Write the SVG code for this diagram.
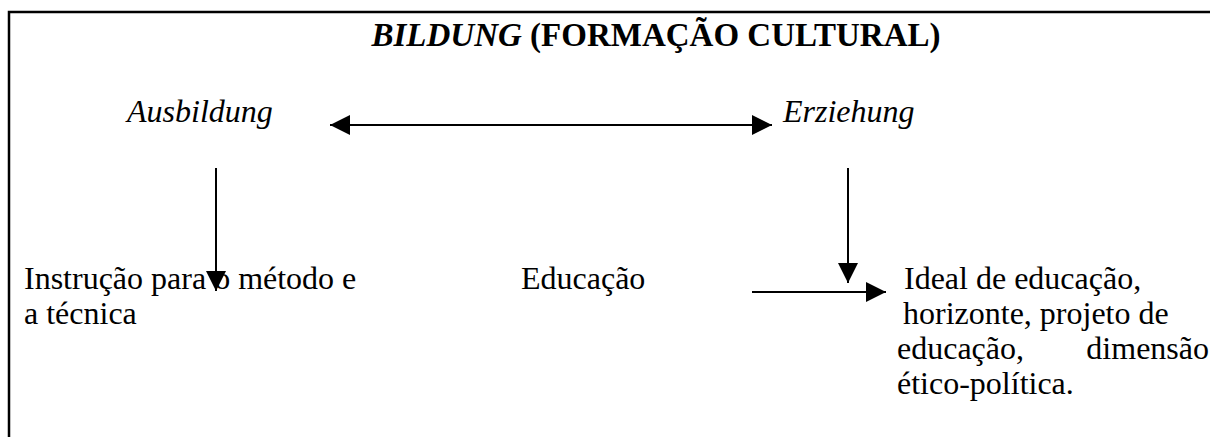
<svg xmlns="http://www.w3.org/2000/svg" width="1210" height="437" viewBox="0 0 1210 437">
<style>
text{font-family:"Liberation Serif","Times New Roman",serif;font-size:32px;fill:#000}
.it{font-style:italic}
.b{font-weight:bold}
.ln{stroke:#000;stroke-width:2;fill:none}
</style>
<defs>
<marker id="ah" viewBox="0 0 10 10" refX="10" refY="5" markerWidth="20" markerHeight="20" markerUnits="userSpaceOnUse" orient="auto-start-reverse">
<path d="M0,0 L10,5 L0,10 Z" fill="#000"/>
</marker>
</defs>
<rect width="1210" height="437" fill="#fff"/>
<g id="frame">
<path d="M9,437 V12 H1210" stroke="#000" stroke-width="2.5" fill="none"/>
</g>
<g id="title"><text x="656" y="46" text-anchor="middle" style="font-size:33px"><tspan class="it b">BILDUNG</tspan><tspan class="b"> (FORMAÇÃO CULTURAL)</tspan></text></g>
<g id="ausbildung"><text class="it" x="127" y="122">Ausbildung</text></g>
<g id="erziehung"><text class="it" x="783" y="122">Erziehung</text></g>
<g id="instrucao"><text x="24" y="289">Instrução para o método e</text><text x="24" y="324">a técnica</text></g>
<g id="educacao"><text x="521" y="289">Educação</text></g>
<g id="ideal">
<text x="904" y="289">Ideal de educação,</text>
<text x="903" y="324">horizonte, projeto de</text>
<text x="897" y="359">educação,</text><text x="1209" y="359" text-anchor="end">dimensão</text>
<text x="897" y="394">ético-política.</text>
</g>
<g id="connectors">
<line class="ln" x1="330" y1="125" x2="772" y2="125" marker-start="url(#ah)" marker-end="url(#ah)"/>
<line class="ln" x1="216" y1="168" x2="216" y2="291" marker-end="url(#ah)"/>
<line class="ln" x1="848" y1="168" x2="848" y2="283" marker-end="url(#ah)"/>
<line class="ln" x1="752" y1="292" x2="886" y2="292" marker-end="url(#ah)"/>
</g>
</svg>
